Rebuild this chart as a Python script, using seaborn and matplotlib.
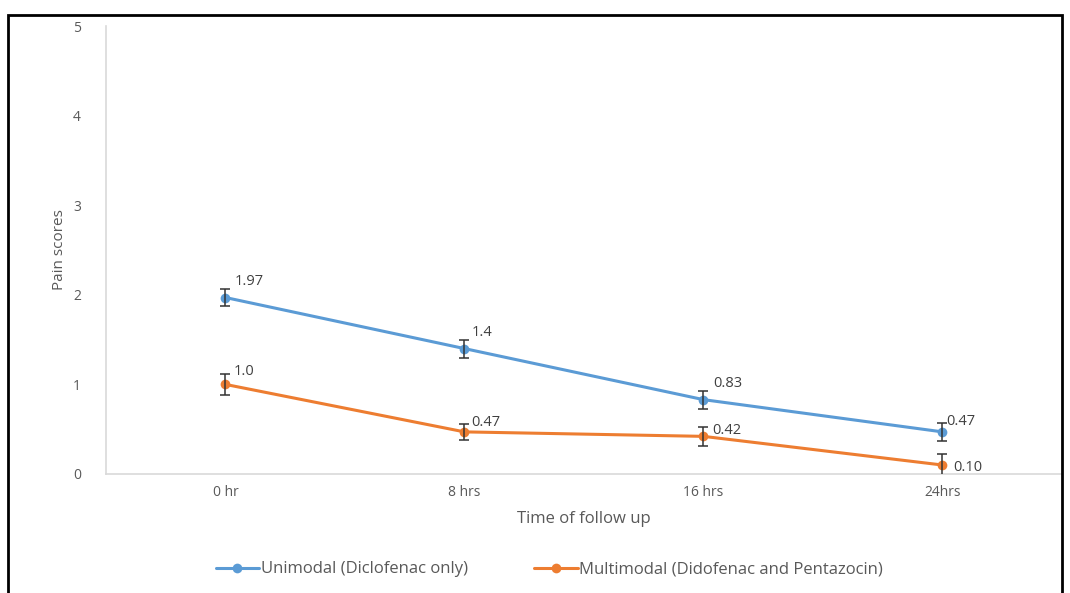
import matplotlib
matplotlib.use("Agg")
import matplotlib.pyplot as plt
import seaborn as sns
import pandas as pd
from matplotlib.patches import Rectangle

times = ["0 hr", "8 hrs", "16 hrs", "24hrs"]
unimodal = [1.97, 1.4, 0.83, 0.47]
unimodal_err = [0.10, 0.10, 0.10, 0.10]
multimodal = [1.0, 0.47, 0.42, 0.10]
multimodal_err = [0.12, 0.09, 0.11, 0.12]
uni_labels = ["1.97", "1.4", "0.83", "0.47"]
multi_labels = ["1.0", "0.47", "0.42", "0.10"]
groups = ["Unimodal (Diclofenac only)", "Multimodal (Didofenac and Pentazocin)"]

sns.set_style("white")
plt.rcParams['font.family'] = ['Open Sans', 'DejaVu Sans']

blue = "#5B9BD5"
orange = "#ED7D31"

df = pd.DataFrame({
    "x": list(range(len(times))) * 2,
    "score": unimodal + multimodal,
    "group": [groups[0]] * len(times) + [groups[1]] * len(times),
})

fig = plt.figure(figsize=(10.7, 5.93), dpi=100)
ax = fig.add_axes([0.099, 0.2007, 0.8935, 0.7553])

sns.lineplot(data=df, x="x", y="score", hue="group", palette=[blue, orange],
             marker="o", markersize=7, markeredgewidth=0, linewidth=2.2, ax=ax)

# error bars
xs = list(range(len(times)))
ax.errorbar(xs, unimodal, yerr=unimodal_err, fmt="none", ecolor="#333333",
            elinewidth=1.1, capsize=3.5, capthick=1.1, zorder=5)
ax.errorbar(xs, multimodal, yerr=multimodal_err, fmt="none", ecolor="#333333",
            elinewidth=1.1, capsize=3.5, capthick=1.1, zorder=5)

# data labels
uni_off = [(7, 9), (5, 9), (7, 9), (3, 5)]
multi_off = [(6, 7), (5, 4), (6, 2), (8, -4)]
for i in xs:
    ax.annotate(uni_labels[i], (i, unimodal[i]), xytext=uni_off[i],
                textcoords="offset points", fontsize=10.5, color="#404040")
    ax.annotate(multi_labels[i], (i, multimodal[i]), xytext=multi_off[i],
                textcoords="offset points", fontsize=10.5, color="#404040")

ax.set_xlim(-0.5, 3.5)
ax.set_ylim(0, 5)
ax.set_xticks(xs)
ax.set_xticklabels(times)
ax.set_yticks([0, 1, 2, 3, 4, 5])
ax.tick_params(axis="both", colors="#595959", labelsize=10, length=0)
ax.tick_params(axis="y", pad=18)
ax.tick_params(axis="x", pad=8)

for s in ["top", "right"]:
    ax.spines[s].set_visible(False)
ax.spines["left"].set_color("#D9D9D9")
ax.spines["bottom"].set_color("#D9D9D9")
ax.spines["left"].set_linewidth(1.2)
ax.spines["bottom"].set_linewidth(1.2)

ax.set_xlabel("Time of follow up", fontsize=12, color="#595959", labelpad=8)
ax.set_ylabel("Pain scores", fontsize=11, color="#595959", labelpad=4)

handles, labels = ax.get_legend_handles_labels()
ax.legend(handles, labels, loc="center", bbox_to_anchor=(0.464, -0.213), ncol=2,
          frameon=False, fontsize=12, labelcolor="#595959", columnspacing=4.0,
          handlelength=2.6, handletextpad=0.1)

# outer frame
fig.patches.append(Rectangle((8 / 1070, -0.05), 1054 / 1070, 1 - 15 / 593 + 0.05,
                             transform=fig.transFigure, fill=False,
                             edgecolor="black", linewidth=2))

fig.savefig("out.png", dpi=100)
